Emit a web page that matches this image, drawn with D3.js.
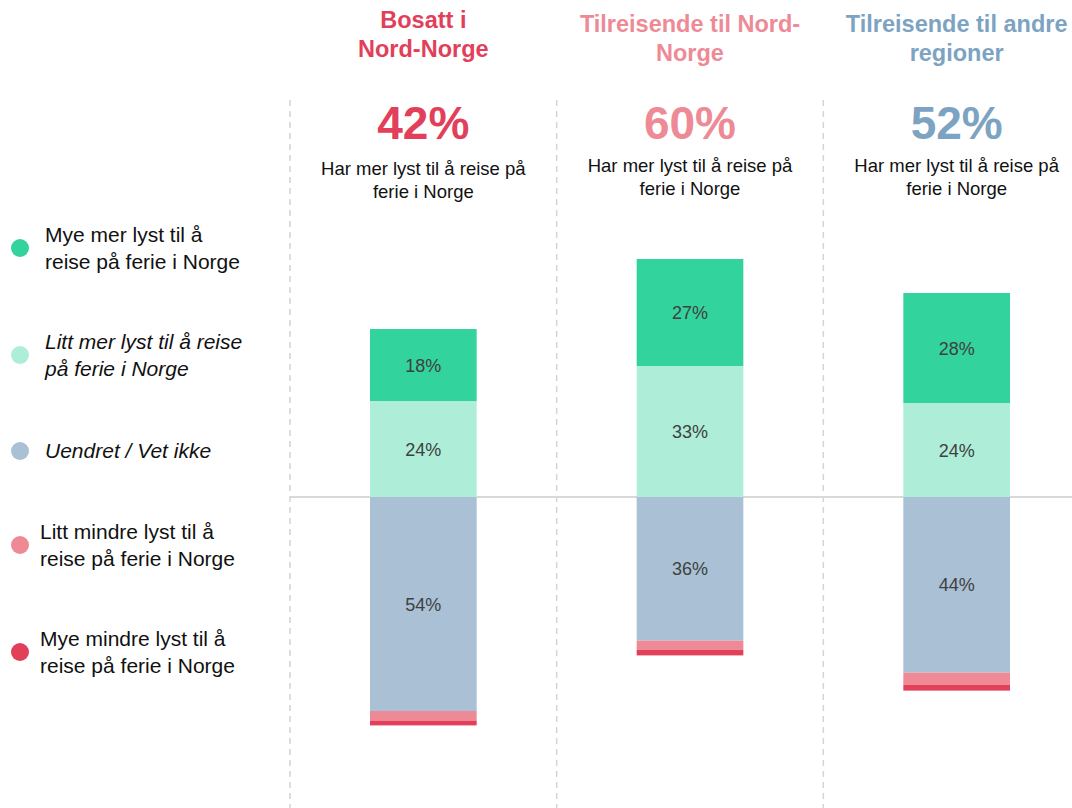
<!DOCTYPE html>
<html>
<head>
<meta charset="utf-8">
<script src="https://cdn.jsdelivr.net/npm/d3@7"></script>
<style>
  body { margin: 0; background: #fff; }
  svg { display: block; font-family: "Liberation Sans", Arial, sans-serif; }
</style>
</head>
<body>
<svg id="chart"></svg>
<script>
var groups = ["Bosatt i Nord-Norge", "Tilreisende til Nord-Norge", "Tilreisende til andre regioner"];
var titleLines = [["Bosatt i", "Nord-Norge"], ["Tilreisende til Nord-", "Norge"], ["Tilreisende til andre", "regioner"]];
var totals = ["42%", "60%", "52%"];
var subText = ["Har mer lyst til å reise på", "ferie i Norge"];

// positive side
var myeMer = [18, 26.75, 27.5];
var littMer = [24, 32.75, 23.5];
// negative side
var uendret = [53.5, 35.9, 43.9];
var littMindre = [2.4, 2.3, 3.1];
var myeMindre = [1.2, 1.4, 1.4];

var seriesNames = [
    "Mye mer lyst til å reise på ferie i Norge",
    "Litt mer lyst til å reise på ferie i Norge",
    "Uendret / Vet ikke",
    "Litt mindre lyst til å reise på ferie i Norge",
    "Mye mindre lyst til å reise på ferie i Norge"
];
var legendLines = [
    ["Mye mer lyst til å", "reise på ferie i Norge"],
    ["Litt mer lyst til å reise", "på ferie i Norge"],
    ["Uendret / Vet ikke"],
    ["Litt mindre lyst til å", "reise på ferie i Norge"],
    ["Mye mindre lyst til å", "reise på ferie i Norge"]
];

var colors = ["#33d39e", "#aeedd8", "#a9c0d5", "#ee8a96", "#e2405a"];
var titleColors = ["#e2405a", "#ee8a96", "#7da3c3"];

var w = 1072, h = 808;
var svg = d3.select("#chart").attr("width", w).attr("height", h);

var x = d3.scaleBand()
    .domain(groups)
    .range([290, 1090])
    .paddingInner(0.6)
    .paddingOuter(0.3);

var y = d3.scaleLinear()
    .domain([0, 100])
    .range([497, 97]);

// dashed separators
var step = x.step();
svg.selectAll("line.sep")
    .data(groups)
    .enter()
    .append("line")
    .attr("class", "sep")
    .attr("x1", function(d) { return x(d) - step * 0.3; })
    .attr("x2", function(d) { return x(d) - step * 0.3; })
    .attr("y1", 100)
    .attr("y2", h)
    .attr("stroke", "#d4d4d4")
    .attr("stroke-width", 1.5)
    .attr("stroke-dasharray", "6,5");

// baseline
svg.append("line")
    .attr("x1", 290).attr("x2", w)
    .attr("y1", y(0)).attr("y2", y(0))
    .attr("stroke", "#d9d9d9")
    .attr("stroke-width", 2);

// build segments
var segs = [];
groups.forEach(function(g, i) {
    var neg = [uendret[i], littMindre[i], myeMindre[i]];
    // positive: littMer from 0 up, myeMer on top
    segs.push({g: g, s: 1, y0: 0, y1: littMer[i], v: littMer[i], label: true});
    segs.push({g: g, s: 0, y0: littMer[i], y1: littMer[i] + myeMer[i], v: myeMer[i], label: true});
    var acc = 0;
    neg.forEach(function(v, k) {
        segs.push({g: g, s: k + 2, y0: -acc - v, y1: -acc, v: v, label: k == 0});
        acc += v;
    });
});

svg.selectAll("rect.seg")
    .data(segs)
    .enter()
    .append("rect")
    .attr("class", "seg")
    .attr("x", function(d) { return x(d.g); })
    .attr("width", x.bandwidth())
    .attr("y", function(d) { return y(d.y1); })
    .attr("height", function(d) { return y(d.y0) - y(d.y1); })
    .attr("fill", function(d) { return colors[d.s]; });

svg.selectAll("text.val")
    .data(segs.filter(function(d) { return d.label; }))
    .enter()
    .append("text")
    .attr("class", "val")
    .attr("x", function(d) { return x(d.g) + x.bandwidth() / 2; })
    .attr("y", function(d) { return (y(d.y0) + y(d.y1)) / 2 + 6.5; })
    .attr("text-anchor", "middle")
    .attr("font-size", 18)
    .attr("fill", "#404040")
    .text(function(d) { return Math.round(d.v) + "%"; });

// column headers
groups.forEach(function(g, i) {
    var cx = x(g) + x.bandwidth() / 2;
    var ty = i == 0 ? 28 : 32;
    titleLines[i].forEach(function(t, k) {
        svg.append("text")
            .attr("x", cx)
            .attr("y", ty + k * 29)
            .attr("text-anchor", "middle")
            .attr("font-size", 23.5)
            .attr("font-weight", "bold")
            .attr("fill", titleColors[i])
            .text(t);
    });
    svg.append("text")
        .attr("x", cx)
        .attr("y", 139)
        .attr("text-anchor", "middle")
        .attr("font-size", 46)
        .attr("font-weight", "bold")
        .attr("fill", titleColors[i])
        .text(totals[i]);
    var sy = i == 0 ? 175 : 172;
    subText.forEach(function(t, k) {
        svg.append("text")
            .attr("x", cx)
            .attr("y", sy + k * 23)
            .attr("text-anchor", "middle")
            .attr("font-size", 18.5)
            .attr("fill", "#111")
            .text(t);
    });
});

// legend
var legY = [248, 355, 451, 545, 652];
var legTextX = [45, 45, 45, 40, 40];
seriesNames.forEach(function(name, i) {
    svg.append("circle")
        .attr("cx", 20)
        .attr("cy", legY[i])
        .attr("r", 9)
        .attr("fill", colors[i]);
    var lines = legendLines[i];
    var startY = lines.length > 1 ? legY[i] - 6 : legY[i] + 7;
    lines.forEach(function(t, k) {
        svg.append("text")
            .attr("x", legTextX[i])
            .attr("y", startY + k * 27)
            .attr("font-size", 21)
            .attr("font-style", (i == 1 || i == 2) ? "italic" : "normal")
            .attr("fill", "#111")
            .text(t);
    });
});
</script>
</body>
</html>
